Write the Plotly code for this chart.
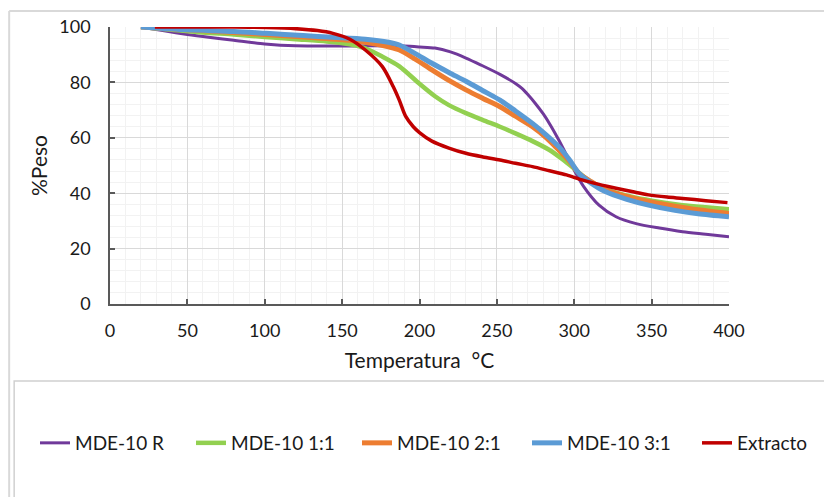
import plotly.graph_objects as go

# ---- data ----
t_r = [20, 35, 50, 65, 80, 100, 120, 145, 170, 190, 200, 210, 220, 230, 240, 252, 262, 266, 270, 275, 280, 285, 290, 295, 300, 306, 316, 327, 340, 355, 370, 385, 400]
w_r = [100, 98.6, 97.3, 96.2, 95.2, 93.9, 93.2, 93.1, 93.2, 93.1, 92.8, 92.4, 91.0, 88.8, 86.2, 82.9, 79.6, 77.9, 75.6, 72.3, 68.6, 64.2, 59.2, 53.8, 48.3, 42.5, 35.7, 31.5, 29.0, 27.4, 26.1, 25.2, 24.3]

t_11 = [20, 40, 60, 80, 100, 120, 140, 155, 165, 176, 187, 200, 210, 219, 230, 241, 252, 262, 273, 284, 293, 301, 308, 316, 327, 337, 350, 370, 385, 400]
w_11 = [100, 99, 98, 97.3, 96.4, 95.6, 94.8, 93.8, 92.3, 89.3, 85.8, 79.5, 75, 71.8, 68.9, 66.4, 64, 61.6, 58.8, 55.6, 52, 48.4, 45.2, 42.4, 40.2, 38.7, 37.3, 35.7, 34.9, 34.2]

t_21 = [20, 50, 80, 100, 130, 155, 170, 180, 187, 197, 208, 219, 230, 241, 252, 262, 273, 282, 290, 297, 303, 310, 320, 334, 348, 365, 380, 400]
w_21 = [100, 99, 98, 97.3, 96.2, 95.2, 94, 92.8, 91.7, 88.5, 84.5, 80.7, 77.3, 74.2, 71.2, 67.8, 64, 60, 55.6, 51.5, 47.2, 44.5, 41.2, 38.8, 37.0, 35.3, 34.0, 32.7]

t_31 = [20, 50, 80, 101, 125, 144, 165, 180, 187, 197, 208, 219, 230, 241, 252, 262, 273, 282, 290, 297, 303, 310, 320, 334, 348, 365, 380, 400]
w_31 = [100, 99, 98.4, 97.7, 96.9, 96.3, 95.6, 94.5, 93.5, 90.5, 86.9, 83.6, 80.4, 77, 73.6, 69.7, 65.2, 61, 56.8, 52, 47.2, 44, 40.6, 37.8, 35.7, 33.8, 32.6, 31.5]

t_ext = [29, 50, 80, 101, 120, 134, 144, 155, 165, 176, 183, 187, 191, 196, 200, 208, 219, 230, 241, 252, 262, 273, 284, 295, 305, 316, 327, 338, 348, 360, 370, 385, 399]
w_ext = [100, 100, 100, 99.8, 99.4, 98.7, 97.7, 95.6, 91.7, 85.7, 78.5, 73.5, 67.8, 64.0, 61.9, 58.8, 56.3, 54.4, 53.1, 52, 50.8, 49.6, 48.1, 46.6, 44.8, 43.2, 41.8, 40.5, 39.4, 38.6, 38.1, 37.3, 36.6]

names = ["MDE-10 R", "MDE-10 1:1", "MDE-10 2:1", "MDE-10 3:1", "Extracto"]
x_ticks = [0, 50, 100, 150, 200, 250, 300, 350, 400]
y_ticks = [0, 20, 40, 60, 80, 100]

series = [
    (names[0], t_r, w_r, "#70399A", 3),
    (names[1], t_11, w_11, "#92D050", 4.5),
    (names[2], t_21, w_21, "#ED7D31", 5),
    (names[3], t_31, w_31, "#5B9BD5", 5),
    (names[4], t_ext, w_ext, "#C00000", 3.5),
]
legend_px = [41, 197, 363, 533, 703]  # left pixel of each legend entry's symbol

FONT = "Lato"
TXT = "#1a1a1a"

def px2x(px):
    return (px - 110) / 620.0

def py2y(py):
    return (304 - py) / 277.0

fig = go.Figure()
legend_layouts = {}
for i, (name, t, w, color, lw) in enumerate(series):
    lname = "legend" if i == 0 else f"legend{i+1}"
    fig.add_trace(go.Scatter(
        x=t, y=w, name=name, mode="lines", legend=lname,
        line=dict(color=color, width=lw, shape="spline", smoothing=0.8),
    ))
    legend_layouts[lname] = dict(
        orientation="h", x=px2x(legend_px[i] - 6), xanchor="left",
        y=py2y(443), yanchor="middle",
        font=dict(family=FONT, size=19, color=TXT),
        bgcolor="rgba(0,0,0,0)", borderwidth=0,
    )

axis_common = dict(
    showline=True, linecolor="#595959", linewidth=1.5,
    ticks="inside", ticklen=5, tickcolor="#595959", tickwidth=1.5,
    showgrid=True, gridcolor="#d9d9d9", gridwidth=1,
    zeroline=False,
    tickfont=dict(family=FONT, size=18, color=TXT),
)

fig.update_xaxes(
    range=[0, 400], tickvals=x_ticks, ticktext=[str(v) for v in x_ticks],
    minor=dict(dtick=10, showgrid=True, gridcolor="#f2f2f2", ticks=""),
    title=dict(text="Temperatura  °C", font=dict(family=FONT, size=21, color=TXT), standoff=13),
    ticklabelstandoff=10,
    **axis_common,
)
fig.update_yaxes(
    range=[0, 100], tickvals=y_ticks, ticktext=[str(v) for v in y_ticks],
    minor=dict(dtick=4, showgrid=True, gridcolor="#f2f2f2", ticks=""),
    title=dict(text="%Peso", font=dict(family=FONT, size=21, color=TXT), standoff=6),
    ticklabelstandoff=14,
    **axis_common,
)

shapes = [
    dict(type="line", xref="paper", yref="paper", x0=px2x(9), x1=px2x(830), y0=py2y(11), y1=py2y(11),
         line=dict(color="#d9d9d9", width=2)),
    dict(type="line", xref="paper", yref="paper", x0=px2x(9), x1=px2x(9), y0=py2y(11), y1=py2y(500),
         line=dict(color="#d9d9d9", width=2)),
    dict(type="rect", xref="paper", yref="paper", x0=px2x(14), x1=px2x(830), y0=py2y(381), y1=py2y(500),
         line=dict(color="#d0d0d0", width=1.5), fillcolor="white", layer="below"),
]

fig.update_layout(
    width=824, height=497,
    margin=dict(l=110, r=94, t=27, b=193),
    paper_bgcolor="white", plot_bgcolor="white",
    showlegend=True,
    shapes=shapes,
    **legend_layouts,
)

fig.write_html("out.html")
